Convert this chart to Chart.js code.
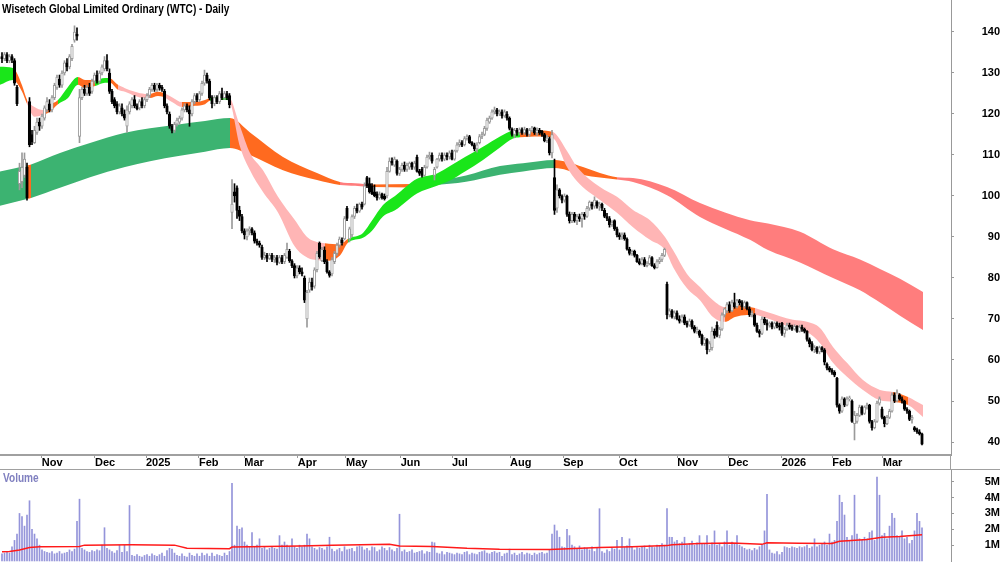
<!DOCTYPE html>
<html>
<head>
<meta charset="utf-8">
<script src="https://cdn.jsdelivr.net/npm/chart.js@4.4.1/dist/chart.umd.min.js"></script>
<style>
  html, body { margin: 0; padding: 0; background: #fff; }
  #wrap { position: relative; width: 1000px; height: 562px; overflow: hidden; font-family: "Liberation Sans", Arial, sans-serif; }
  #priceBox { position: absolute; left: 0; top: 0; width: 1000px; height: 470px; }
  #volBox { position: absolute; left: 0; top: 470px; width: 1000px; height: 92px; }
  /* the original uses a narrow bold face: squeeze a regular one to the same width */
  .title, .vol-label { position: absolute; font-size: 12px; line-height: 12px; font-weight: bold; white-space: nowrap;
                       transform: scaleX(0.84); transform-origin: 0 0; z-index: 2; }
  .title { left: 2px; top: 3px; color: #000; }
  .vol-label { left: 3px; top: 472px; color: #8080c0; }
  .hline { position: absolute; left: 0; top: 469px; width: 1000px; height: 1px; background: #a0a0a0; z-index: 2; }
  .vline { position: absolute; left: 950px; top: 455px; width: 1px; height: 15px; background: #a0a0a0; z-index: 2; }
</style>
</head>
<body>
<div id="wrap">
  <div id="priceBox"><canvas id="price"></canvas></div>
  <div id="volBox"><canvas id="vol"></canvas></div>
  <div class="title">Wisetech Global Limited Ordinary (WTC) - Daily</div>
  <div class="vol-label">Volume</div>
  <div class="hline"></div>
  <div class="vline"></div>
</div>
<script>
// ---------------- Data (bar index = trading day) ----------------
const opens = [
  134, 133.5, 134.5, 133, 134, 133, 126.5, 103, 103.5, 105,
  107, 123, 115, 113, 115.5, 118, 117, 119, 121, 122.5,
  121, 124, 126.5, 128.5, 127, 130, 132.5, 131.5, 133.5, 138,
  139.5, 114.5, 124, 126, 125, 126.5, 125.5, 128, 129.5, 128,
  130, 131, 133, 130, 125.5, 123.5, 122.5, 120.5, 121.5, 120,
  117, 120.5, 122, 123.5, 122, 121.5, 123, 122, 123.5, 124.5,
  126, 127, 126, 127, 126.5, 125.5, 122, 120, 117, 116,
  117.5, 118, 119, 121, 122, 121, 120, 123, 124.5, 123.5,
  125, 127.5, 129.5, 128, 124, 122.5, 124, 123, 125, 124,
  125, 124.5, 96, 101, 102, 96.5, 95, 91.5, 90, 91.5,
  92, 91, 89, 88.5, 87.5, 85, 85.5, 84.8, 85.5, 84.5,
  85, 83.8, 85, 84, 85, 86.5, 84.2, 83, 80.5, 82.5,
  81.5, 80, 70, 77, 79, 78, 82, 88.5, 84.2, 86.8,
  84, 81.5, 81, 84, 86, 88, 89.2, 89.5, 97, 89.5,
  90.5, 95, 97, 96.3, 98, 98, 104.5, 103, 102.5, 101,
  100.5, 99.5, 100.5, 100, 100, 106, 108.5, 107.5, 108.5, 105.5,
  106.5, 107.5, 106.5, 107, 108, 107, 109.5, 106, 106.5, 105,
  107, 109.5, 110, 105, 107, 109, 110, 109, 110, 109.5,
  110.5, 109, 111, 112.5, 113, 112.5, 114, 114.5, 113, 112.5,
  111.5, 113, 114.5, 115, 116.5, 118, 119, 120.5, 121, 120,
  120.5, 119.5, 120, 119, 116.3, 115, 116, 115.5, 116.2, 115.4,
  116.2, 115, 116, 116.6, 115.4, 116, 115.8, 115, 113.5, 114,
  110.5, 104.5, 97, 101.5, 100, 99, 100, 95.5, 94, 95.5,
  94, 95, 94.4, 95.5, 95, 97, 98, 97.5, 98.5, 97.5,
  98, 96.5, 95, 94.5, 93, 94, 92, 90.5, 90, 90.5,
  89.5, 87, 86, 86.5, 85.5, 84, 83.5, 84.5, 83, 83.5,
  85, 83, 82.5, 84, 84.5, 85.5, 78.5, 71, 72, 70.5,
  71.5, 70, 69.5, 70.5, 69, 68.5, 69.5, 68, 67, 67,
  66, 64, 65, 62.5, 63, 67, 68.5, 66, 67.5, 71,
  72, 73.5, 72, 74, 73, 74.5, 74, 73, 74, 72.5,
  71, 71, 68.5, 67, 66.5, 70, 69, 68.5, 69, 68,
  69, 68.4, 69, 66.5, 67.5, 68.5, 68, 67.5, 68.2, 67,
  68, 67.5, 67, 65, 64, 62.5, 63, 62, 63, 62.5,
  59, 58, 57.5, 57, 55.5, 49, 47.5, 50.5, 49, 50.5,
  50, 44.5, 45, 46.5, 48.5, 47, 48.5, 49, 45, 43.5,
  45, 49.5, 48, 46, 44.5, 46, 47.5, 51.5, 50, 51.5,
  50.5, 50, 48, 47.5, 45.5, 43.5, 43, 42.5, 42
];
const highs = [
  135, 135, 135, 134.5, 134.5, 133.5, 127, 108, 110.5, 110.5,
  108, 124, 116, 117, 119, 119, 120, 122, 124, 123.5,
  124.5, 127.5, 129.5, 129.5, 130.5, 133, 133.5, 134.5, 137, 141.5,
  141, 126, 126.5, 127, 127, 127.5, 128.5, 130, 130.5, 130.5,
  132, 134, 134.5, 131, 126, 124, 123, 122.5, 122.5, 121,
  122, 123, 124, 124.5, 122.5, 123.5, 124, 124, 125, 126.5,
  127.5, 127.5, 127.5, 127.5, 127, 126, 122.5, 120.5, 117.5, 118,
  119, 119.5, 121.5, 122.5, 122.5, 122, 123.5, 125, 125, 125.5,
  128, 130.7, 130, 128.5, 124.5, 124.5, 124.5, 125.5, 126.3, 125.5,
  125.5, 125, 104, 103, 102.5, 97.5, 95.5, 92, 92, 92.5,
  92.3, 91.5, 89.5, 89, 88, 86.3, 86, 86, 86, 85.5,
  85.5, 85.5, 85.5, 86, 88.5, 87, 84.5, 83.5, 83, 83,
  82.5, 80.5, 77, 80, 80, 82.5, 86.5, 88.8, 87.5, 87.6,
  84.5, 81.8, 85, 86.5, 88.5, 90, 89.8, 95, 97.5, 92.4,
  95.4, 97.5, 98, 98.3, 98.5, 103.2, 104.8, 104.4, 103, 102.7,
  101, 101, 100.7, 100.5, 107, 109.3, 109.3, 109.5, 108.8, 107,
  108, 108.3, 108, 108.3, 108.3, 108.5, 110, 106.5, 107, 107.5,
  110, 110.7, 110.5, 107, 109.2, 110.5, 110.5, 110.5, 110.5, 111,
  111.2, 111.2, 113, 113.7, 113.5, 114.5, 114.9, 114.8, 113.3, 112.9,
  113, 115, 115.6, 117, 119, 119.5, 121, 121.7, 121.4, 121,
  121, 121, 120.6, 119.3, 116.6, 116.5, 116.5, 116.6, 116.6, 116.8,
  116.5, 116.5, 117, 116.8, 116.6, 116.5, 116, 115.3, 114.8, 114.4,
  116, 109, 102.7, 101.8, 100.3, 100.5, 100.2, 96.1, 96, 96,
  95.5, 95.6, 96, 96, 97.5, 98.8, 98.5, 99.8, 98.8, 98.5,
  98.3, 97, 95.8, 95, 94, 94.2, 92.4, 91, 91, 91,
  89.8, 87.5, 86.8, 86.8, 85.8, 84.7, 85, 85, 84, 85.5,
  85.2, 83.5, 84.5, 85, 86, 87.3, 79, 72.5, 72.3, 72,
  72, 70.8, 71, 71, 69.5, 70, 69.8, 68.4, 68, 67.3,
  66.3, 65.5, 65.2, 64.5, 68, 67.6, 69.3, 68, 71.5, 72.7,
  74, 74.2, 74.6, 76.3, 74.8, 74.8, 74.5, 74.4, 74.2, 73,
  72, 71.3, 69, 67.4, 70.5, 70.4, 69.8, 69.3, 69.3, 69.3,
  69.3, 69, 69.2, 68, 69, 69, 68.5, 68.6, 68.4, 68.5,
  68.5, 67.8, 67.2, 65.4, 64.5, 63.5, 63.3, 63.4, 63.3, 62.8,
  59.3, 58.4, 57.9, 57.4, 55.8, 49.3, 51, 50.8, 51, 51.2,
  50.3, 47.5, 47, 49, 48.8, 48.8, 49.5, 49.2, 45.3, 45.5,
  50, 51, 48.5, 46.3, 46.5, 48, 52, 52, 52.7, 51.8,
  51, 50.2, 48.4, 47.8, 46.5, 43.8, 43.4, 43, 42.2
];
const lows = [
  132.5, 133, 132.5, 132.5, 132.5, 127, 122, 101.5, 102, 104.5,
  99, 112, 112.5, 112.8, 115, 116, 116.5, 118.5, 120.5, 120.5,
  120.5, 123.5, 126, 126.5, 126.5, 129.5, 130.5, 131, 133, 137.5,
  138, 113, 123.5, 124.5, 124.5, 124.5, 125, 127.5, 127.5, 127.5,
  129.5, 130.5, 130.5, 125, 122.5, 121.5, 120, 120, 119.5, 118.5,
  115.5, 120, 121.5, 121.5, 121, 121, 121.5, 121.5, 123, 124,
  125.5, 125.5, 125.5, 125.8, 125.5, 121.5, 120, 116.5, 115.4, 115.5,
  117, 117.5, 118.5, 120.5, 120.5, 117, 119.5, 122.5, 123, 123,
  124.5, 127, 127.5, 123.5, 121.5, 122, 122.5, 122.5, 123.5, 123.5,
  123.5, 121.5, 92, 98.5, 94.5, 94, 91, 89.5, 89.3, 90.5,
  90.5, 88.5, 88, 87.5, 84.5, 84.5, 84, 84.5, 84, 83.8,
  83.2, 83.5, 83.5, 83.5, 84.8, 83.8, 82.5, 80, 80, 81,
  80.5, 74, 68, 76.5, 77, 77.5, 81.5, 84.8, 84, 83.5,
  81.2, 80.2, 80.5, 83.5, 85.5, 87.5, 88, 89.3, 94, 88.8,
  90, 94.5, 95.9, 96, 96.8, 97.8, 102, 100.7, 100.3, 99.8,
  99, 99.2, 99.2, 99, 99.5, 105.8, 107.5, 107.2, 105.1, 105,
  106, 106, 106, 106.5, 106.5, 106.5, 105.8, 105, 104.6, 104.8,
  106.8, 109, 108, 103.9, 106.8, 108.5, 108.5, 108.6, 108.8, 109,
  108.8, 108.7, 110.7, 112, 112, 112.2, 113.6, 112.8, 112.2, 111,
  110.7, 112.7, 114, 114.7, 116, 117.7, 118.7, 120, 119.5, 119.6,
  119, 119.2, 118.5, 116.1, 114.6, 114.2, 114.8, 115, 115, 115,
  114.6, 114.5, 115.6, 115, 114.8, 115, 114.5, 113.2, 113, 110,
  109.3, 95.5, 96, 99.5, 98.3, 98.5, 95, 93.4, 93.5, 93.6,
  93, 93.8, 92.4, 94.3, 94.8, 96.5, 96.8, 97, 97, 96.5,
  96.4, 94.7, 94, 92.4, 92.6, 91.6, 90, 89.4, 89.4, 89.2,
  86.8, 85.6, 85.5, 85.1, 83.8, 83.2, 83.2, 82.8, 82.7, 83.2,
  82.8, 82.2, 82.4, 83.5, 84, 85.2, 70, 70.5, 70.2, 70,
  69.8, 69, 69.2, 68.6, 68, 68.2, 67.6, 66.6, 66.5, 65.5,
  63.6, 63.5, 61.5, 62, 62.4, 65.3, 65.6, 65.4, 67.2, 70.5,
  71.5, 71.6, 71.8, 72.6, 72.7, 73.4, 72.3, 72.6, 72.2, 70.6,
  70.5, 68.2, 66.7, 65.6, 66.2, 68.6, 67.3, 68, 67.6, 67.6,
  67.8, 67.3, 66, 65.6, 67.2, 67.5, 67.2, 67.3, 66.7, 66.8,
  67, 66.6, 64.6, 63.2, 62.2, 61.8, 61.6, 61.5, 62, 58.8,
  57.6, 57.1, 56.5, 55.9, 48.5, 47, 47.2, 48.6, 48.8, 50,
  44.8, 40.5, 44.6, 46.2, 46.6, 46.7, 48, 44.6, 42.9, 43.2,
  44.8, 49, 45.6, 43.7, 44.2, 45.7, 47.3, 49.6, 49.8, 50.2,
  49.5, 47.7, 47, 45.2, 44.6, 42.6, 42.1, 41.7, 39.3
];
const closes = [
  133.5, 134.5, 133, 134, 133.2, 127.5, 122.5, 106, 107, 109,
  99.5, 112.5, 113.2, 116, 118, 117, 119.5, 121.5, 123, 121,
  124, 127, 129, 127, 130, 132.5, 131.5, 134, 136.5, 140,
  139, 124, 126, 125, 126.5, 125, 128, 129.5, 128, 130,
  131.5, 133, 131, 125.5, 123, 122, 120.5, 122, 120, 119,
  121, 122.5, 123.5, 122, 121.3, 123, 122, 123.5, 124.5, 126,
  127, 126, 127.2, 126.3, 126, 122, 120.5, 117, 116, 117.5,
  118.5, 119, 121, 122, 121, 120, 123, 124.5, 123.5, 125,
  127.5, 129.5, 128, 124, 122.5, 124, 123, 125, 124, 125,
  124, 122.3, 98, 100, 96.5, 95, 91.5, 90.5, 91.5, 92,
  91, 89, 88.5, 88, 85, 85.5, 84.8, 85.5, 84.5, 85,
  83.8, 85, 84, 85.5, 87, 84.2, 83, 80.5, 82.5, 81.5,
  81, 74.6, 76.5, 79, 77.8, 82, 86, 85.2, 87, 84,
  81.5, 80.6, 84.5, 86, 88, 89.5, 88.6, 94.5, 94.5, 92,
  95, 97, 96.3, 98, 97.3, 102.5, 102.5, 101, 100.5, 100,
  99.5, 100.3, 99.5, 99.3, 106, 108.5, 108, 109, 105.5, 106.5,
  107.5, 106.5, 107.5, 108, 107, 108, 106, 105.5, 105, 107,
  109.5, 110, 108.5, 106.5, 109, 110, 109, 110, 109.5, 110.5,
  109, 111, 112.5, 113, 112.4, 114, 114.5, 113, 112.5, 111.5,
  112.5, 114.5, 115, 116.5, 118.5, 119, 120.5, 121, 120, 120.5,
  119.5, 120.5, 119, 116.5, 115, 116, 115.5, 116.2, 115.4, 116.2,
  115, 116, 116.6, 115.4, 116, 115.4, 115, 113.5, 114.2, 110.5,
  115, 96.5, 101.5, 100, 99, 100, 95.5, 94, 95.5, 94,
  95, 94.4, 95.5, 95, 97, 98.5, 97.5, 99, 97.5, 98,
  97, 95, 94.5, 93, 93.5, 92, 90.5, 90, 90.5, 89.6,
  87, 86, 86.5, 85.5, 84, 83.5, 84.5, 83.1, 83.5, 85,
  83, 82.5, 84, 84.5, 85.5, 87, 71, 72, 70.5, 71.5,
  70, 69.5, 70.5, 69, 68.5, 69.5, 68, 67, 67.5, 66,
  64, 65, 62.5, 64, 67, 66, 66, 67.5, 71, 72.5,
  73.5, 72, 74, 73, 74.5, 74, 73, 74, 72.5, 71,
  71.5, 68.5, 67, 66.5, 70, 69, 68.5, 69, 68, 69,
  68.4, 68, 66.5, 67.5, 68.5, 68, 67.5, 68.2, 67, 68,
  67.5, 67, 65, 64, 62.5, 63, 62, 63, 62.5, 59.5,
  58, 57.5, 57, 56.3, 49, 47.5, 50.5, 49, 50.5, 50.8,
  45, 46.5, 46.5, 48.5, 47, 48.5, 49, 45, 43.5, 45,
  49.5, 50.5, 46, 44.5, 46, 47.5, 51.5, 50, 52, 50.5,
  50, 48, 47.5, 45.5, 46, 43, 42.5, 42, 39.5
];
// volume in millions
const volumes = [
  0.45, 0.5, 0.55, 0.5, 0.9, 1.3, 1.7, 3.0, 2.8, 2.2,
  2.9, 3.8, 2.0, 1.7, 1.4, 1.0, 0.7, 0.6, 0.55, 0.5,
  0.6, 0.45, 0.5, 0.6, 0.45, 0.5, 0.55, 0.7, 0.6, 0.75,
  2.5, 3.9, 0.8, 0.7, 0.6, 0.55, 0.65, 0.6, 0.7, 0.65,
  1.0, 2.1, 0.8, 0.7, 0.6, 0.5, 0.65, 1.0, 0.55, 1.0,
  0.6, 3.5, 0.35, 0.3, 0.4, 0.3, 0.25, 0.35, 0.4, 0.3,
  0.45, 0.35, 0.3, 0.4, 0.5, 0.3, 0.65, 0.8, 0.75, 0.5,
  0.35, 0.3, 0.45, 0.3, 0.25, 0.5, 0.35, 0.3, 0.45, 0.3,
  0.5, 0.35, 0.45, 0.3, 0.5, 0.3, 0.4, 0.35, 0.3, 0.5,
  0.35, 0.6, 4.9, 1.0, 2.2, 2.0, 2.1, 1.2, 1.0, 0.9,
  1.8, 0.9, 1.0, 1.4, 0.8, 0.9, 0.7, 0.8, 0.9, 0.8,
  0.75, 1.6, 1.0, 1.2, 1.0, 0.9, 1.4, 0.9, 0.8, 1.0,
  0.9, 1.0, 1.7, 1.4, 0.9, 0.8, 0.7, 0.85, 0.8, 0.7,
  0.9, 1.5, 0.75, 0.6, 0.7, 0.8, 0.6, 0.9, 0.7, 0.75,
  0.8, 0.6, 0.9, 0.95, 0.9, 0.7, 0.8, 0.65, 0.9, 0.85,
  0.6, 0.7, 0.9, 0.8, 0.65, 0.85, 0.7, 0.6, 0.8, 2.95,
  0.6, 0.7, 0.55, 0.6, 0.7, 0.5, 0.55, 0.6, 0.65, 0.45,
  0.6, 0.55, 1.2, 1.15, 0.5, 0.45, 0.6, 0.4, 0.55, 0.5,
  0.45, 0.4, 0.5, 0.45, 0.4, 0.55, 0.6, 0.4, 0.5, 0.45,
  0.4, 0.55, 0.6, 0.65, 0.5, 0.45, 0.55, 0.6, 0.5, 0.55,
  0.3, 0.45, 0.5, 0.75, 0.4, 0.5, 0.35, 0.45, 0.55, 0.4,
  0.5, 0.45, 0.35, 0.5, 0.4, 0.5, 0.55, 0.45, 0.5, 0.7,
  1.7, 2.27, 1.9, 1.5, 0.9, 0.85, 2.0, 1.6, 1.0, 0.9,
  0.8, 0.95, 0.7, 0.85, 0.8, 0.7, 0.9, 0.6, 0.85, 3.3,
  0.6, 0.5, 0.7, 0.6, 0.8, 0.75, 1.3, 0.7, 1.5, 0.85,
  0.95, 1.4, 0.9, 0.7, 0.85, 0.8, 0.9, 0.95, 0.75, 1.0,
  0.9, 0.85, 1.0, 0.95, 1.1, 1.0, 3.3, 1.5, 1.5, 1.2,
  1.3, 1.1, 1.2, 1.5, 1.0, 1.1, 1.25, 1.0, 1.15, 1.6,
  1.1, 1.05, 1.6, 1.0, 1.15, 1.9, 1.0, 1.1, 0.9, 1.2,
  1.9, 1.0, 1.2, 1.1, 1.6, 1.0, 0.9, 0.8, 0.7, 0.75,
  0.65, 0.8, 0.7, 0.9, 1.0, 1.9, 4.2, 0.7, 0.5, 0.45,
  0.6, 0.4, 0.55, 0.9, 0.85, 0.8, 0.9, 0.85, 0.8, 0.9,
  0.85, 0.9, 1.0, 0.8, 0.9, 1.4, 0.9, 1.0, 1.1, 1.2,
  1.0, 1.7, 1.2, 1.3, 2.5, 4.15, 3.7, 2.9, 1.5, 1.3,
  1.6, 4.15, 1.7, 1.4, 1.3, 1.5, 1.4, 1.8, 1.9, 1.3,
  5.3, 4.15, 1.6, 1.75, 1.4, 2.2, 3.0, 2.7, 1.6, 1.5,
  1.9, 1.4, 1.5, 1.1, 1.3, 1.9, 3.0, 2.5, 2.1
];
// volume moving average (bar index, millions)
const maX = [0, 3, 7, 11, 15, 31, 33, 52, 69, 74, 91, 92, 119, 132, 155, 159, 172, 186, 199, 219, 239, 252, 266, 268, 279, 292, 304, 306, 319, 332, 335, 346, 352, 359, 368];
const maY = [0.59, 0.6, 0.7, 0.85, 0.9, 0.92, 1.0, 1.02, 1.0, 0.8, 0.78, 0.88, 0.95, 1.0, 1.05, 0.95, 0.92, 0.8, 0.74, 0.72, 0.85, 0.9, 0.97, 1.02, 1.1, 1.13, 1.05, 1.15, 1.12, 1.1, 1.25, 1.35, 1.5, 1.55, 1.65];

// short-term ribbon: position, upper, lower, colour of the segment that starts there
const shortX  = [-0.8, 4.4, 8, 10, 13, 16.4, 19, 22.4, 26.4, 30.4, 33.2, 37.2, 41.2, 43.2, 46.4, 49.2, 53.2, 57.2, 59.2, 62.4, 64.4, 68, 72, 77.2, 81.2, 83.2, 89.2, 90.8, 95.2, 99.2, 104.4, 110.4, 117.2, 122.4, 126, 129.2, 135.2, 138.4, 144.4, 148, 152.4, 157.2, 166, 174, 179.2, 185.2, 192.4, 199.2, 204.4, 207.2, 215.2, 220.4, 226, 230, 239.2, 246, 252.4, 259.2, 265.2, 268.4, 274, 279.2, 284.4, 289.2, 293.2, 298, 301.2, 306, 316.4, 322, 327.2, 332.4, 338, 344.4, 351.2, 356.4, 362.4, 368.4];
const shortHi = [131.5, 131.2, 127, 123.5, 121.7, 121, 122.2, 123.4, 126.6, 129, 128.3, 128.3, 128.8, 128.7, 127.1, 126.3, 125.4, 124.9, 124.9, 125.4, 125.2, 124.1, 122.9, 122.9, 123.4, 123.9, 124.1, 124, 117, 110.5, 106.3, 99.8, 94.1, 89.8, 88.8, 88.5, 88.2, 89.6, 91, 94, 97.8, 100, 104.2, 105.5, 107.3, 109.5, 112, 114.5, 116, 116.1, 116, 115.6, 111, 107.1, 102.2, 99.8, 96.6, 94.1, 90, 86.8, 81, 77.8, 74.6, 72.9, 73.4, 73, 72.7, 71.7, 69.8, 69.3, 67.8, 63.2, 59.3, 55.1, 52.7, 52.2, 51, 49];
const shortLo = [127.1, 128.3, 125.5, 122.5, 119.3, 119.8, 120.5, 122.4, 123.9, 127.1, 126.3, 126.8, 127.6, 127.6, 125.9, 125.4, 124.4, 123.9, 123.9, 124.4, 124.2, 122.9, 121.7, 122, 122.4, 123.2, 123.4, 123.2, 112, 106.3, 101, 96, 87.6, 84.9, 84.4, 84.2, 85.5, 88.6, 89.8, 91.5, 95, 96.5, 100.6, 102.5, 103.8, 106, 108.8, 111.8, 114, 114.3, 114.5, 114.1, 107.1, 103.6, 99, 95.9, 92.4, 89.3, 86.8, 82.7, 77.5, 74.6, 70.5, 69.3, 70.5, 71, 71, 70.2, 67.8, 66.8, 64.1, 59.3, 55.9, 52.7, 50.2, 49.8, 49, 46.1];
const shortCol = ['g', 'o', 'o', 'p', 'p', 'o', 'o', 'g', 'g', 'o', 'o', 'g', 'g', 'o', 'p', 'p', 'p', 'p', 'o', 'o', 'p', 'p', 'o', 'o', 'o', 'g', 'g', 'p', 'p', 'p', 'p', 'p', 'p', 'p', 'p', 'o', 'o', 'g', 'g', 'g', 'g', 'g', 'g', 'g', 'g', 'g', 'g', 'g', 'g', 'o', 'o', 'p', 'p', 'p', 'p', 'p', 'p', 'p', 'p', 'p', 'p', 'p', 'p', 'o', 'o', 'o', 'p', 'p', 'p', 'p', 'p', 'p', 'p', 'p', 'p', 'o', 'p', 'p'];

// long-term ribbon
const longX  = [-0.8, 10.4, 11.6, 23.2, 35.2, 49.2, 59.2, 71.2, 81.2, 91.2, 99.2, 112.4, 126, 135.2, 141.2, 148, 164.4, 172.4, 185.6, 199.2, 208.4, 221.2, 226, 232.4, 246, 252.4, 266, 279.2, 299.2, 306.4, 319.2, 332.4, 343.2, 351.2, 359.2, 368.4];
const longHi = [106, 107.5, 107.7, 110.5, 112.9, 115.4, 116.5, 117.5, 118.3, 119, 115.5, 109.5, 105.6, 103.4, 103.1, 102.8, 102.9, 103.6, 105, 107.3, 108, 108.8, 108.3, 107.1, 104.6, 104.4, 102.2, 98.3, 94.1, 93.3, 91.3, 87, 84.5, 82.2, 79.8, 76.6];
const longLo = [97.6, 99.3, 99.5, 102, 104.6, 107.1, 108.5, 109.8, 110.8, 111.7, 110, 106.3, 103.9, 102.7, 102.5, 102.2, 102.1, 102.6, 103.5, 105.2, 106, 106.8, 106.3, 105.1, 104, 103.4, 100.2, 94.9, 89.3, 86.8, 83.8, 80, 77, 74, 70.8, 67.3];
const longCol = ['g', 'o', 'g', 'g', 'g', 'g', 'g', 'g', 'g', 'o', 'o', 'o', 'o', 'r', 'r', 'o', 'g', 'g', 'g', 'g', 'g', 'o', 'o', 'o', 'r', 'r', 'r', 'r', 'r', 'r', 'r', 'r', 'r', 'r', 'r', 'r'];

// axes
const monthPos = [15.9, 37.2, 57.6, 78.8, 96.9, 118.3, 137.6, 159.5, 180, 203.2, 224.5, 246.8, 270.1, 290.5, 311.9, 332.1, 352.3];
const monthLabels = ["Nov", "Dec", "2025", "Feb", "Mar", "Apr", "May", "Jun", "Jul", "Aug", "Sep", "Oct", "Nov", "Dec", "2026", "Feb", "Mar"];
const priceTicks = [40, 50, 60, 70, 80, 90, 100, 110, 120, 130, 140];
const volTicks = [1, 2, 3, 4, 5];

// ---------------- Fonts / axis geometry ----------------
const FAMILY = "'Liberation Sans', Arial, sans-serif";
const FONT = { family: FAMILY, size: 11, weight: "bold" };
Chart.defaults.font.family = FAMILY;

const probe = document.createElement("canvas").getContext("2d");
probe.font = `bold ${FONT.size}px ${FAMILY}`;
// right-hand labels end at x = 997
const AXIS_LEFT = 951, TICK_LEN = 3, LABEL_RIGHT = 997;
const padPrice = LABEL_RIGHT - AXIS_LEFT - TICK_LEN - probe.measureText("140").width;
const padVol = LABEL_RIGHT - AXIS_LEFT - TICK_LEN - probe.measureText("5M").width;

// ---------------- Styling ----------------
const X_MIN = -0.8, X_MAX = 379.6;
const UP = "#9a9a9a", DOWN = "#000000";
const SHORT_PAL = { g: "#1ae61a", o: "#ff6a1f", p: "#ffb5b5" };
const LONG_PAL  = { g: "#3cb371", o: "#ff6a1f", r: "#ff7d7d" };

const up = closes.map((c, i) => c >= opens[i]);

function ribbon(xs, hi, lo, cols, pal, order) {
  const common = { type: "line", borderColor: "rgba(0,0,0,0)", borderWidth: 0, pointRadius: 0, cubicInterpolationMode: "monotone", order };
  return [
    { ...common, data: xs.map((x, k) => ({ x, y: hi[k] })), backgroundColor: pal[cols[0]], fill: "+1",
      segment: { backgroundColor: ctx => pal[cols[ctx.p0DataIndex]] } },
    { ...common, data: xs.map((x, k) => ({ x, y: lo[k] })), fill: false }
  ];
}

function rightAxis(min, max, ticks, pad, fmt) {
  return {
    position: "right", min, max,
    afterBuildTicks: s => { s.ticks = ticks.map(v => ({ value: v })); },
    afterFit: s => { s.width = 1000 - AXIS_LEFT; s.paddingTop = 0; s.paddingBottom = 0; },
    ticks: { crossAlign: "far", padding: pad, color: "#000", font: FONT, callback: fmt },
    grid: { drawOnChartArea: false, tickLength: TICK_LEN, color: "#999" },
    border: { display: true, color: "#999", width: 1 }
  };
}

// ---------------- Price panel ----------------
new Chart(document.getElementById("price"), {
  type: "bar",
  data: {
    datasets: [
      { type: "bar", data: closes.map((c, i) => ({ x: i, y: [opens[i], c] })), barThickness: 2.6, grouped: false,
        backgroundColor: up.map(u => u ? "#ffffff" : DOWN), borderColor: up.map(u => u ? UP : DOWN),
        borderWidth: 1, borderSkipped: false, order: 0 },
      { type: "bar", data: closes.map((c, i) => ({ x: i, y: [lows[i], highs[i]] })), barThickness: 1, grouped: false,
        backgroundColor: up.map(u => u ? UP : DOWN), borderWidth: 0, order: 1 },
      ...ribbon(shortX, shortHi, shortLo, shortCol, SHORT_PAL, 5),
      ...ribbon(longX, longHi, longLo, longCol, LONG_PAL, 6)
    ]
  },
  options: {
    responsive: true, maintainAspectRatio: false, animation: false, devicePixelRatio: 1, events: [],
    layout: { padding: 0 },
    plugins: { legend: { display: false }, tooltip: { enabled: false } },
    scales: {
      x: {
        type: "linear", min: X_MIN, max: X_MAX, offset: false,
        afterBuildTicks: s => { s.ticks = monthPos.map(v => ({ value: v })); },
        afterFit: s => { s.height = 15; s.paddingLeft = 0; s.paddingRight = 0; },
        ticks: { autoSkip: false, maxRotation: 0, align: "start", padding: -1, color: "#000",
                 font: { ...FONT, lineHeight: 1 }, callback: (v, i) => monthLabels[i] },
        grid: { drawOnChartArea: false, tickLength: 3, color: "#999", offset: false },
        border: { display: true, color: "#a0a0a0", width: 2 }
      },
      y: rightAxis(36.83, 147.8, priceTicks, padPrice, v => v)
    }
  }
});

// ---------------- Volume panel ----------------
new Chart(document.getElementById("vol"), {
  type: "bar",
  data: {
    datasets: [
      { type: "line", data: maX.map((x, k) => ({ x, y: maY[k] })), borderColor: "#ff1a1a", borderWidth: 1.5,
        pointRadius: 0, tension: 0, order: 0 },
      { type: "bar", data: volumes.map((v, i) => ({ x: i, y: v })), barThickness: 1, grouped: false,
        backgroundColor: "#9494da", order: 1 }
    ]
  },
  options: {
    responsive: true, maintainAspectRatio: false, animation: false, devicePixelRatio: 1, events: [],
    layout: { padding: 0 },
    plugins: { legend: { display: false }, tooltip: { enabled: false } },
    scales: {
      x: { type: "linear", min: X_MIN, max: X_MAX, offset: false, display: false, grid: { offset: false } },
      y: rightAxis(-0.063, 5.74, volTicks, padVol, v => v + "M")
    }
  }
});
</script>
</body>
</html>
